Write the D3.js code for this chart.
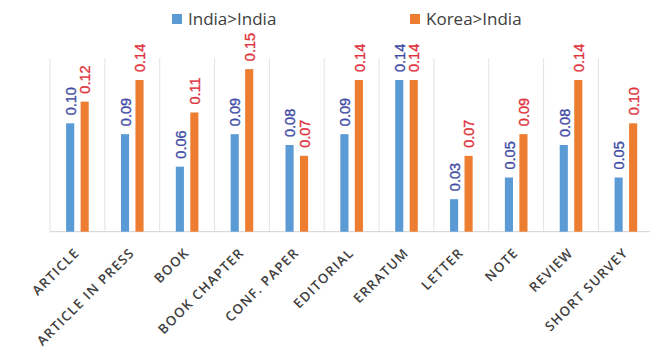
<!DOCTYPE html>
<html>
<head>
<meta charset="utf-8">
<script src="https://cdn.jsdelivr.net/npm/d3@7/dist/d3.min.js"></script>
<style>
  html, body { margin: 0; padding: 0; background: #ffffff; }
  svg { display: block; }
</style>
</head>
<body>
<div id="chart"></div>
<script>
// Document types and the two collaboration series
const categories = ["ARTICLE", "ARTICLE IN PRESS", "BOOK", "BOOK CHAPTER", "CONF. PAPER",
  "EDITORIAL", "ERRATUM", "LETTER", "NOTE", "REVIEW", "SHORT SURVEY"];
const seriesNames = ["India>India", "Korea>India"];
const indiaIndia = [0.10, 0.09, 0.06, 0.09, 0.08, 0.09, 0.14, 0.03, 0.05, 0.08, 0.05];
const koreaIndia = [0.12, 0.14, 0.11, 0.15, 0.07, 0.14, 0.14, 0.07, 0.09, 0.14, 0.10];
const seriesValues = [indiaIndia, koreaIndia];

const barColors = ["#5B9BD5", "#ED7D31"];
const labelColors = ["#3F4DA6", "#E0323C"];

const width = 650, height = 349;
const svg = d3.select("#chart").append("svg")
  .attr("width", width).attr("height", height);

const plot = { left: 50, right: 653.3, top: 58.3, bottom: 231.7 };

const x = d3.scaleBand().domain(categories).range([plot.left, plot.right]).padding(0);
const xSub = d3.scaleBand().domain(seriesNames).range([-11.3, 11.3]).paddingInner(0.44);
const y = d3.scaleLinear().domain([0, 0.16]).range([plot.bottom, plot.top]);

// Vertical separators between categories
const bounds = categories.map(c => x(c)).concat([plot.right]);
svg.append("g").selectAll("line").data(bounds).join("line")
  .attr("x1", d => d).attr("x2", d => d)
  .attr("y1", plot.top).attr("y2", plot.bottom)
  .attr("stroke", "#e3e3e3").attr("stroke-width", 1);

// Baseline
svg.append("line")
  .attr("x1", plot.left).attr("x2", plot.right)
  .attr("y1", plot.bottom).attr("y2", plot.bottom)
  .attr("stroke", "#d9d9d9").attr("stroke-width", 1.2);

// Bars and value labels
const rows = categories.map((c, i) => ({
  cat: c,
  vals: seriesNames.map((s, j) => ({ s, j, v: seriesValues[j][i] }))
}));

const groups = svg.append("g").selectAll("g").data(rows).join("g")
  .attr("transform", d => `translate(${x(d.cat) + x.bandwidth() / 2},0)`);

groups.selectAll("rect").data(d => d.vals).join("rect")
  .attr("x", d => xSub(d.s))
  .attr("width", xSub.bandwidth())
  .attr("y", d => y(d.v))
  .attr("height", d => y(0) - y(d.v))
  .attr("fill", d => barColors[d.j]);

groups.selectAll("text").data(d => d.vals).join("text")
  .attr("transform", d => `translate(${xSub(d.s) + xSub.bandwidth() / 2 + 0.5},${y(d.v) - 8}) rotate(-90)`)
  .attr("dy", "0.36em")
  .attr("text-anchor", "start")
  .attr("font-family", "Liberation Sans, Arial, sans-serif")
  .attr("font-size", 14.5)
  .attr("stroke", d => labelColors[d.j])
  .attr("stroke-width", 0.35)
  .attr("fill", d => labelColors[d.j])
  .text(d => d.v.toFixed(2));

// Category labels, rotated
const xAxis = d3.axisBottom(x).tickSize(0).tickPadding(0);
const axisG = svg.append("g").attr("transform", `translate(0,${plot.bottom})`).call(xAxis);
axisG.select(".domain").remove();
axisG.selectAll(".tick text")
  .attr("transform", "translate(3,22) rotate(-45)")
  .attr("text-anchor", "end")
  .attr("dy", 0)
  .attr("y", 0)
  .attr("font-family", "Open Sans, sans-serif")
  .attr("font-size", 13.3)
  .attr("font-weight", 600)
  .attr("letter-spacing", "1.2px")
  .attr("fill", "#404040");

// Legend
const legendX = [172, 410];
const legend = svg.append("g").selectAll("g").data(seriesNames).join("g")
  .attr("transform", (d, i) => `translate(${legendX[i]},14)`);
legend.append("rect").attr("width", 10).attr("height", 10)
  .attr("fill", (d, i) => barColors[i]);
legend.append("text").attr("x", 16).attr("y", 11)
  .attr("font-family", "Open Sans, sans-serif")
  .attr("font-size", 17)
  .attr("fill", "#404040")
  .text(d => d);
</script>
</body>
</html>
